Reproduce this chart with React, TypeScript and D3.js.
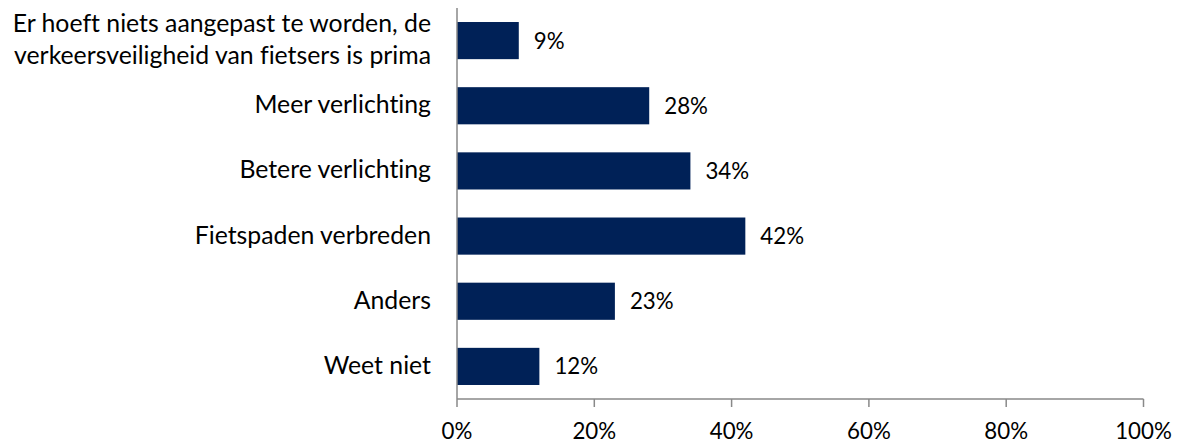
import React from "react";
import * as d3 from "d3";

const categories: string[][] = [
  ["Er hoeft niets aangepast te worden, de", "verkeersveiligheid van fietsers is prima"],
  ["Meer verlichting"],
  ["Betere verlichting"],
  ["Fietspaden verbreden"],
  ["Anders"],
  ["Weet niet"],
];
const values = [9, 28, 34, 42, 23, 12];
const labels = ["9%", "28%", "34%", "42%", "23%", "12%"];
const ticks = [0, 20, 40, 60, 80, 100];

const W = 1180;
const H = 444;
const FONT = "Lato, 'Open Sans', sans-serif";
const CAT_FS = 24.8;
const NUM_FS = 22.3;

export default function App() {
  const x = d3.scaleLinear().domain([0, 100]).range([457, 1143.5]);
  const y = d3
    .scaleBand<number>()
    .domain(d3.range(values.length))
    .range([8, 399])
    .paddingInner(0.43)
    .paddingOuter(0.215);
  const axisColor = "#898989";
  return (
    <svg
      width={W}
      height={H}
      style={{
        position: "absolute",
        left: 0,
        top: 0,
        background: "#fff",
        fontVariantLigatures: "none",
        fontFeatureSettings: '"liga" 0, "clig" 0, "dlig" 0',
      }}
      fontFamily={FONT}
    >
      {values.map((v, i) => {
        const yc = (y(i) as number) + y.bandwidth() / 2;
        return (
          <g key={i}>
            <rect
              x={x(0)}
              y={y(i)}
              width={x(v) - x(0)}
              height={y.bandwidth()}
              fill="#002157"
            />
            <text x={x(v) + 15} y={yc + 8} fontSize={NUM_FS} fill="#000">
              {labels[i]}
            </text>
            {categories[i].map((line, j) => {
              const n = categories[i].length;
              const off = (j - (n - 1) / 2) * 31.3;
              return (
                <text
                  key={j}
                  x={431}
                  y={yc + off + 7.5}
                  fontSize={CAT_FS}
                  textAnchor="end"
                  fill="#000"
                >
                  {line}
                </text>
              );
            })}
          </g>
        );
      })}
      <line x1={x(0)} x2={x(0)} y1={8} y2={399} stroke={axisColor} strokeWidth={1.5} />
      <line x1={x(0)} x2={x(100)} y1={399} y2={399} stroke={axisColor} strokeWidth={1.5} />
      {ticks.map((t) => (
        <g key={t}>
          <line x1={x(t)} x2={x(t)} y1={399} y2={407} stroke={axisColor} strokeWidth={1.5} />
          <text x={x(t)} y={439} fontSize={NUM_FS} textAnchor="middle" fill="#000">
            {t}%
          </text>
        </g>
      ))}
    </svg>
  );
}
